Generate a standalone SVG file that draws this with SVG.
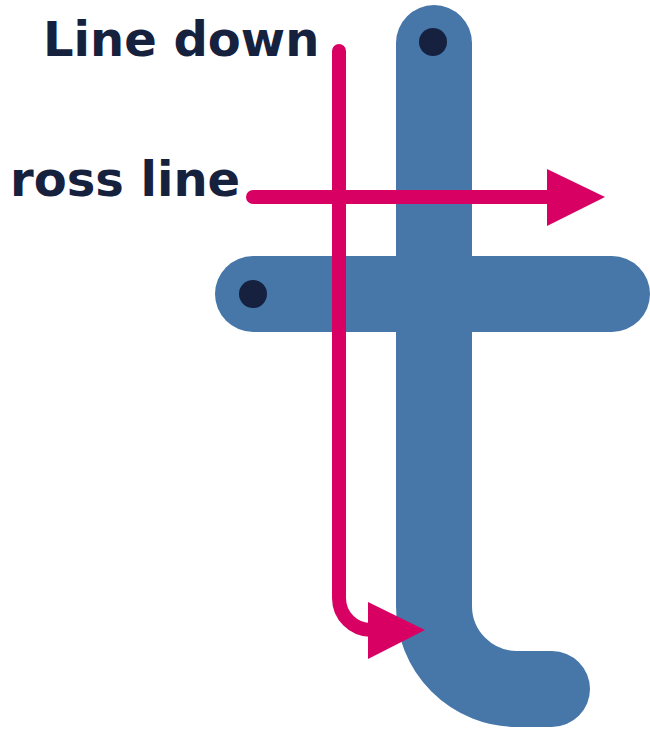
<svg xmlns="http://www.w3.org/2000/svg" width="650" height="731" viewBox="0 0 650 731">
<defs>
<style>
.stroke{fill:none;stroke:#4677a8;stroke-width:76;stroke-linecap:round;stroke-linejoin:round}
.dot{fill:#15213f}
.lbl{font-family:"DejaVu Sans","Liberation Sans",sans-serif;font-weight:bold;font-size:48px;fill:#16213e}
.arr{fill:none;stroke:#d80063;stroke-width:14;stroke-linecap:round;stroke-linejoin:round}
.head{fill:#d80063}
</style>
</defs>
<rect width="650" height="731" fill="#ffffff"/>
<g id="letter-t">
<path class="stroke" d="M434,43 V606 A83,83 0 0 0 517,689 H552"/>
<path class="stroke" d="M253,294 H612"/>
</g>
<g id="start-dots">
<circle class="dot" cx="433" cy="42" r="14"/>
<circle class="dot" cx="253" cy="294" r="14"/>
</g>
<g id="labels">
<text class="lbl" x="43" y="56">Line down</text>
<text class="lbl" x="10" y="196">ross line</text>
</g>
<g id="connectors">
<path class="arr" d="M339,51 V598 A32,32 0 0 0 371,630"/>
<polygon class="head" points="368,602 425,630 368,659"/>
<path class="arr" d="M253,197 H550"/>
<polygon class="head" points="547,169 605,197 547,226"/>
</g>
</svg>
